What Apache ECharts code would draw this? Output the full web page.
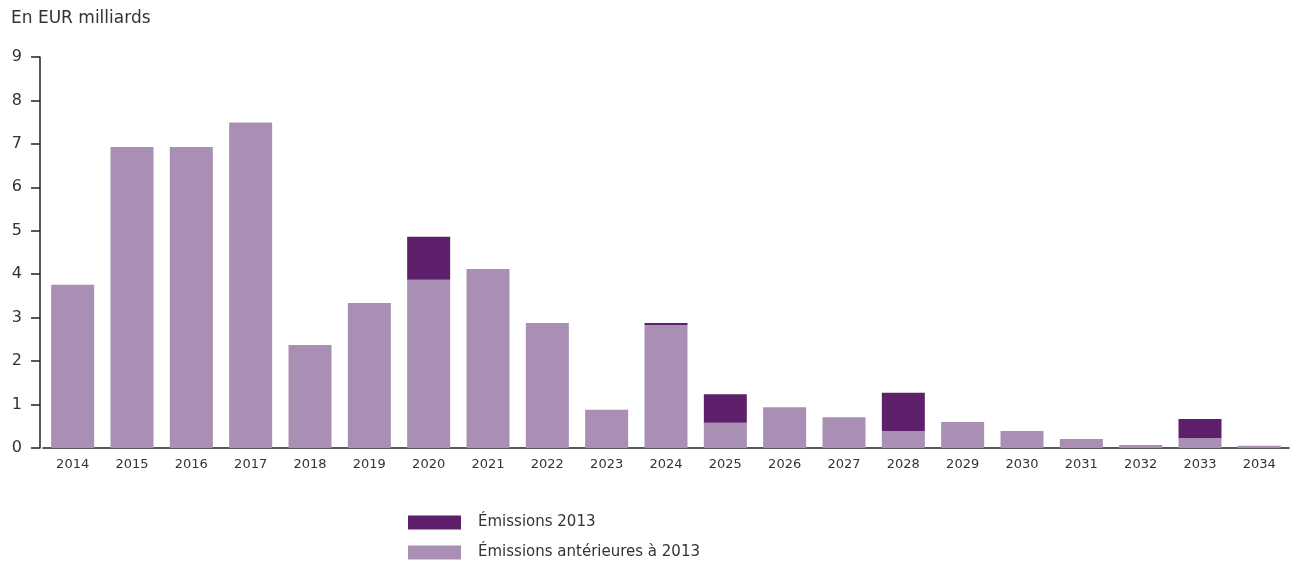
<!DOCTYPE html>
<html><head><meta charset="utf-8">
<script src="https://cdn.jsdelivr.net/npm/echarts@6/dist/echarts.min.js"></script>
<style>html,body{margin:0;padding:0;background:#fff}#c{width:1301px;height:562px}</style>
</head><body><div id="c"></div>
<script>
const categories = ['2014','2015','2016','2017','2018','2019','2020','2021','2022','2023','2024','2025','2026','2027','2028','2029','2030','2031','2032','2033','2034'];
const prior2013 = [3.76,6.93,6.93,7.49,2.37,3.34,3.87,4.12,2.88,0.88,2.83,0.58,0.94,0.71,0.39,0.60,0.39,0.21,0.07,0.23,0.05];
const issues2013 = [0,0,0,0,0,0,0.99,0,0,0,0.05,0.66,0,0,0.88,0,0,0,0,0.44,0];
const yTicks = [0,1,2,3,4,5,6,7,8,9];
const FONT = '"DejaVu Sans", sans-serif';
const legendText = {fontFamily:FONT,fontSize:15,color:'#333',padding:[0,0,0,12]};
const chart = echarts.init(document.getElementById('c'));
chart.setOption({
  animation:false,
  textStyle:{fontFamily:FONT},
  title:{text:'En EUR milliards',left:6,top:5,textStyle:{fontFamily:FONT,fontSize:17,fontWeight:'normal',color:'#333'}},
  grid:{left:43,right:12,top:57,bottom:114,containLabel:false},
  legend:[
    {left:403,top:510,itemWidth:53,itemHeight:14,icon:'rect',data:['Émissions 2013'],textStyle:legendText},
    {left:403,top:540,itemWidth:53,itemHeight:14,icon:'rect',data:['Émissions antérieures à 2013'],textStyle:legendText}
  ],
  xAxis:{type:'category',data:categories,
    axisLine:{lineStyle:{color:'#222',width:1.5}},axisTick:{show:false},
    axisLabel:{color:'#333',fontSize:13,margin:10,fontFamily:FONT}},
  yAxis:{type:'value',min:yTicks[0],max:yTicks[yTicks.length-1],interval:1,offset:3,
    axisLine:{show:true,lineStyle:{color:'#222',width:1.5}},
    axisTick:{show:true,length:9,lineStyle:{color:'#222',width:1.5}},
    splitLine:{show:false},
    axisLabel:{color:'#333',fontSize:16,margin:18,fontFamily:FONT}},
  series:[
    {name:'Émissions antérieures à 2013',type:'bar',stack:'a',data:prior2013,barWidth:43,itemStyle:{color:'#a98fb3'}},
    {name:'Émissions 2013',type:'bar',stack:'a',data:issues2013,barWidth:43,itemStyle:{color:'#5e206a'}}
  ]
});
</script></body></html>
